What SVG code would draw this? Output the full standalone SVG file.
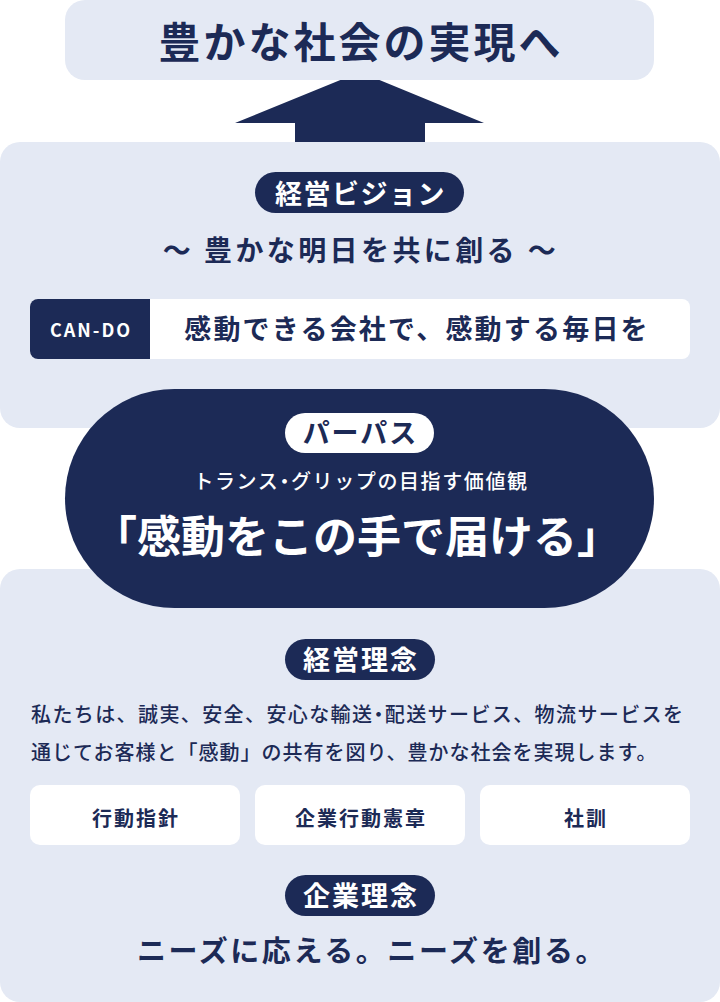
<svg xmlns="http://www.w3.org/2000/svg" width="720" height="1002" viewBox="0 0 720 1002">
<defs>
<style>
.panel{fill:#e4e9f4}
.navy{fill:#1c2a56}
.white{fill:#ffffff}
text{font-family:"Noto Sans CJK JP","Noto Sans",sans-serif;text-anchor:middle}
.t-navy{fill:#1c2a56}
.t-white{fill:#ffffff}
.b{font-weight:700}
.m{font-weight:500}
.p{font-feature-settings:"palt"}
</style>
</defs>
<rect width="720" height="1002" fill="#ffffff"/>
<g id="connectors">
<polygon class="navy" points="360,72 484,123 425,123 425,145 295,145 295,123 235,123"/>
</g>
<g id="goal">
<rect class="panel" x="65" y="0" width="589" height="80" rx="20"/>
<text class="t-navy b" x="361" y="58" font-size="42" letter-spacing="3">豊かな社会の実現へ</text>
</g>
<g id="vision">
<rect class="panel" x="0" y="142" width="720" height="286" rx="20"/>
<rect class="navy" x="255" y="172" width="209" height="41" rx="20.5"/>
<text class="t-white b" x="360.5" y="203.5" font-size="27" letter-spacing="1.5">経営ビジョン</text>
<text class="t-navy b" x="361" y="260.5" font-size="28" letter-spacing="3.4">〜 豊かな明日を共に創る 〜</text>
<g id="cando">
<rect class="white" x="30" y="299" width="660" height="60" rx="8"/>
<path class="navy" d="M38,299 H150 V359 H38 A8,8 0 0 1 30,351 V307 A8,8 0 0 1 38,299 Z"/>
<text class="t-white b" x="91" y="337" font-size="18" letter-spacing="2">CAN-DO</text>
<text class="t-navy b" x="417" y="338.5" font-size="27" letter-spacing="2.2">感動できる会社で、感動する毎日を</text>
</g>
</g>
<g id="philosophy">
<rect class="panel" x="0" y="569" width="720" height="433" rx="20"/>
<rect class="navy" x="285" y="639" width="150" height="41" rx="20.5"/>
<text class="t-white b" x="361" y="670" font-size="27" letter-spacing="2">経営理念</text>
<text class="t-navy m" x="31" y="721.5" font-size="20" letter-spacing="1.4" style="text-anchor:start">私たちは、誠実、安全、安心な輸送<tspan class="p">・</tspan>配送サービス、物流サービスを</text>
<text class="t-navy m" x="31" y="760" font-size="20" letter-spacing="1" style="text-anchor:start">通じてお客様と「感動」の共有を図り、豊かな社会を実現します。</text>
</g>
<g id="btn-action">
<rect class="white" x="30" y="785" width="210" height="60" rx="10"/>
<text class="t-navy b" x="136" y="825.5" font-size="20" letter-spacing="2">行動指針</text>
</g>
<g id="btn-charter">
<rect class="white" x="255" y="785" width="210" height="60" rx="10"/>
<text class="t-navy b" x="361" y="825.5" font-size="20" letter-spacing="2">企業行動憲章</text>
</g>
<g id="btn-motto">
<rect class="white" x="480" y="785" width="210" height="60" rx="10"/>
<text class="t-navy b" x="586" y="825.5" font-size="20" letter-spacing="2">社訓</text>
</g>
<g id="corporate">
<rect class="navy" x="285" y="875" width="150" height="41" rx="20.5"/>
<text class="t-white b" x="361" y="905.5" font-size="27" letter-spacing="2">企業理念</text>
<text class="t-navy b" x="372" y="962" font-size="29" letter-spacing="2.6">ニーズに応える。ニーズを創る。</text>
</g>
<g id="purpose">
<rect class="navy" x="65" y="389" width="589" height="219" rx="109.5"/>
<rect class="white" x="285" y="413" width="149" height="40" rx="20"/>
<text class="t-navy b" x="360.5" y="442.5" font-size="27" letter-spacing="2">パーパス</text>
<text class="t-white m" x="361" y="488.5" font-size="20" letter-spacing="1.6">トランス<tspan class="p">・</tspan>グリップの目指す価値観</text>
<text class="t-white b" x="357" y="553" font-size="44">「感動をこの手で届ける」</text>
</g>
</svg>
